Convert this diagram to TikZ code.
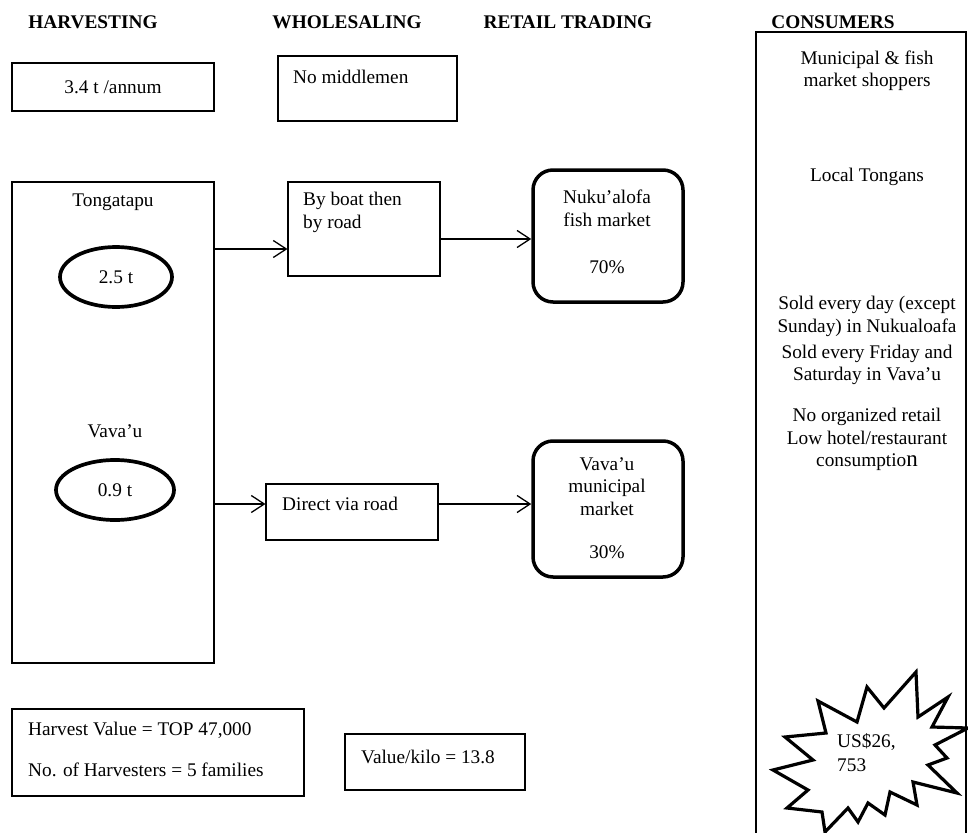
\documentclass[tikz,border=0pt]{standalone}
\usepackage{fontspec}
\setmainfont{Liberation Serif}
\usetikzlibrary{arrows.meta,shapes.geometric}
\begin{document}
\begin{tikzpicture}[x=1pt,y=-1pt,
  every node/.style={font=\fontsize{19.3}{22.5}\selectfont, inner sep=0pt},
  thinbox/.style={draw, line width=1.1pt},
  thickround/.style={draw, line width=3.5pt, rounded corners=20pt},
  oval/.style={draw, ellipse, line width=3.7pt},
  head/.style={font=\fontsize{19.3}{22.5}\selectfont\bfseries},
  arr/.style={line width=1.2pt, -{Straight Barb[length=13pt,width=17pt,line width=1.3pt]}},
  txt/.style={align=center},
  ltxt/.style={align=left, anchor=west}]
\useasboundingbox (0,0) rectangle (968,832);

% headers
\node[head] (h1) at (93,22) {HARVESTING};
\node[head] (h2) at (347,22) {WHOLESALING};
\node[head] (h3) at (568,22) {RETAIL TRADING};
\node[head] (h4) at (833,22) {CONSUMERS};

% top boxes
\node[thinbox, minimum width=202pt, minimum height=48pt] (annum) at (113,87) {3.4 t /annum};
\node[thinbox, minimum width=179pt, minimum height=65pt] (middle) at (367.5,88.5) {};
\node[ltxt] (middletxt) at (293,77) {No middlemen};

% harvesting big box
\node[thinbox, minimum width=202pt, minimum height=481pt] (big) at (113,422.5) {};
\node (tonga) at (113,202) {Tongatapu};
\node[oval, minimum width=112pt, minimum height=60pt] (e1) at (116,277) {2.5 t};
\node (vavau) at (115,431) {Vava’u};
\node[oval, minimum width=118pt, minimum height=60pt] (e2) at (115,490) {0.9 t};

% wholesaling boxes
\node[thinbox, minimum width=152pt, minimum height=94pt] (boat) at (364,229) {};
\node[ltxt] (boattxt) at (303,212.5) {By boat then\\by road};
\node[thinbox, minimum width=172pt, minimum height=56pt] (direct) at (352,512) {};
\node[ltxt] (directtxt) at (282,504) {Direct via road};

% retail boxes
\node[thickround, minimum width=150pt, minimum height=132pt] (nuku) at (608,236) {};
\node[txt] (nukutxt) at (607,208.5) {Nuku’alofa\\fish market};
\node (nukupct) at (607,267) {70\%};
\node[thickround, minimum width=150pt, minimum height=136pt] (vmkt) at (608,509) {};
\node[txt] (vmkttxt) at (607,486.5) {Vava’u\\municipal\\market};
\node (vmktpct) at (607,552) {30\%};

% arrows
\coordinate (y1) at (0,249);
\coordinate (y2) at (0,239);
\coordinate (y3) at (0,504);
\draw[arr] (big.east |- y1) -- (boat.west |- y1);
\draw[arr] (boat.east |- y2) -- (nuku.west |- y2);
\draw[arr] (big.east |- y3) -- (direct.west |- y3);
\draw[arr] (direct.east |- y3) -- (vmkt.west |- y3);

% bottom boxes
\node[thinbox, minimum width=292pt, minimum height=87pt] (harv) at (158,752.5) {};
\node[ltxt] (harv1) at (28,730) {Harvest Value = TOP 47,000};
\node[ltxt] (harv2) at (28,770) {No. of Harvesters = 5 families};
\node[thinbox, minimum width=180pt, minimum height=56pt] (kilo) at (435,762) {};
\node[ltxt] (kilotxt) at (361,757) {Value/kilo = 13.8};

% consumers column
\draw[thinbox] (756,840) -- (756,32) -- (966,32) -- (966,840);
\node[txt] (c1) at (867,71) {Municipal \& fish\\market shoppers};
\node (c2) at (867,177) {Local Tongans};
\node[txt] (c3) at (867,316.5) {Sold every day (except\\Sunday) in Nukualoafa};
\node[txt] (c4) at (867,365) {Sold every Friday and\\Saturday in Vava’u};
\node[txt] (c5) at (867,439.5) {No organized retail\\Low hotel/restaurant\\consumptio{\fontsize{23}{23}\selectfont n}};

% starburst
\draw[line width=3.2pt, line join=miter, fill=white]
  (957,793) -- (913,782) -- (917,805) -- (890,792) -- (885,815) -- (868,803)
  -- (858,822) -- (848,808) -- (825,832) -- (822,812) -- (787,808) -- (808,790)
  -- (773,770) -- (813,760) -- (785,737) -- (826,733) -- (818,701) -- (857,722)
  -- (867,687) -- (884,708) -- (916,672) -- (918,717) -- (948,697) -- (932,727)
  -- (968,728) -- (935,745) -- (947,758) -- (928,765) -- cycle;
\node[align=left, anchor=west, font=\fontsize{19.3}{24.5}\selectfont] (usd) at (837,752.5) {US\$26,\\753};
\end{tikzpicture}
\end{document}
